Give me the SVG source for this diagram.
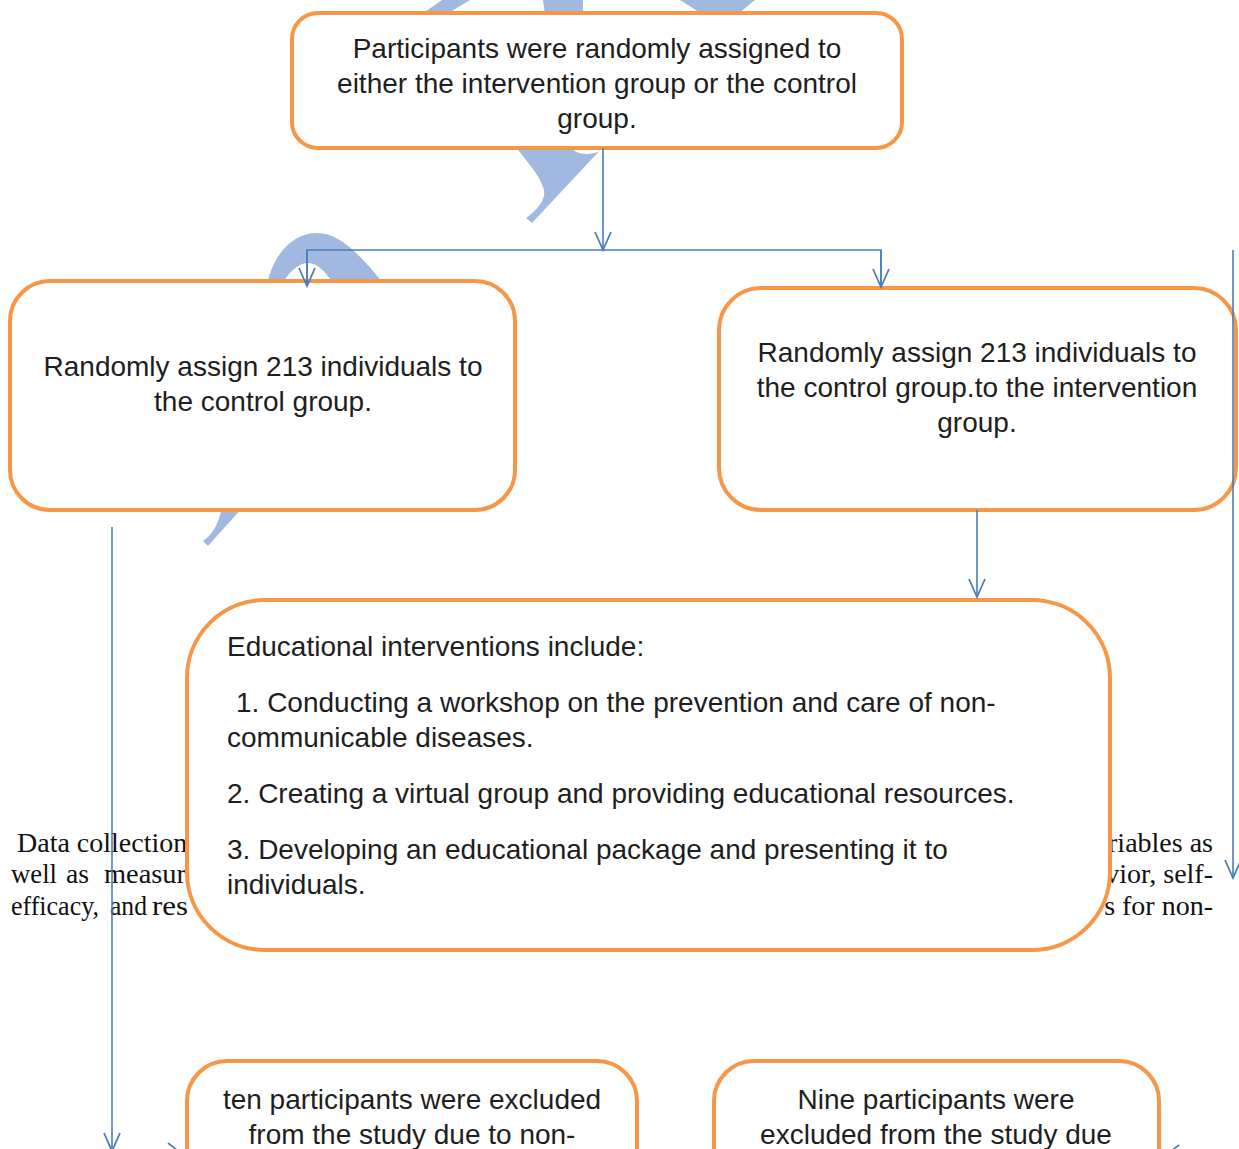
<svg xmlns="http://www.w3.org/2000/svg" width="1239" height="1149" viewBox="0 0 1239 1149">
<style>
.box{fill:#ffffff;stroke:#F79646;stroke-width:4}
.t{font-family:"Liberation Sans",Arial,sans-serif;font-size:28px;fill:#1e1e1e}
.c{text-anchor:middle}
.bg{font-family:"Liberation Serif","Times New Roman",serif;font-size:28px;fill:#111}
.deco{fill:#A1B8E1}
.con{fill:none;stroke:#4A7EBB;stroke-width:1.6}
</style>
<defs>
<marker id="arr" markerUnits="userSpaceOnUse" viewBox="-20 -10 22 20" markerWidth="22" markerHeight="20" refX="0" refY="0" orient="auto">
<path d="M-18,-8 L0,0 L-18,8" fill="none" stroke="#4A7EBB" stroke-width="1.8"/>
</marker>
</defs>
<g id="decorations">
<polygon class="deco" points="422,14 447,14 470,0 442,0"/>
<path class="deco" d="M543,0 L583,0 L583,14 L545,14 Z"/>
<polygon class="deco" points="680,0 755,0 738,14 702,14"/>
<path class="deco" d="M515,146 C528,163 540,175 544,190 C546,200 537,210 526,218 L532,223 L604,146 Z"/>
<ellipse cx="587" cy="148" rx="14" ry="6" fill="#ffffff"/>
<path class="deco" d="M267,284 C275,250 295,233 317,233 C340,233 360,255 384,284 Z"/>
<path d="M282,284 C290,270 300,263 308,263 C318,263 325,272 334,284 Z" fill="#ffffff"/>
<path class="deco" d="M222,508 C218,525 212,535 203,541 L208,546 L242,508 Z"/>
</g>
<g id="background-text">
<text class="bg" x="17" y="852">Data collection</text>
<text class="bg" x="11" y="883" textLength="46" lengthAdjust="spacingAndGlyphs">well</text>
<text class="bg" x="66" y="883" textLength="23" lengthAdjust="spacingAndGlyphs">as</text>
<text class="bg" x="104" y="883" textLength="82" lengthAdjust="spacingAndGlyphs">measur</text>
<text class="bg" x="11" y="915" textLength="88" lengthAdjust="spacingAndGlyphs">efficacy,</text>
<text class="bg" x="110" y="915" textLength="37" lengthAdjust="spacingAndGlyphs">and</text>
<text class="bg" x="152" y="915" textLength="36" lengthAdjust="spacingAndGlyphs">res</text>
<text class="bg" x="1213" y="852" text-anchor="end">riables as</text>
<text class="bg" x="1213" y="883" text-anchor="end">vior, self-</text>
<text class="bg" x="1213" y="915" text-anchor="end">s for non-</text>
</g>
<g id="node-top">
<rect class="box" x="292" y="13" width="610" height="135" rx="26"/>
<text class="t c" x="597" y="58">Participants were randomly assigned to</text>
<text class="t c" x="597" y="93">either the intervention group or the control</text>
<text class="t c" x="597" y="128">group.</text>
</g>
<g id="node-left">
<rect class="box" x="10" y="281" width="505" height="229" rx="40"/>
<text class="t c" x="263" y="376">Randomly assign 213 individuals to</text>
<text class="t c" x="263" y="411">the control group.</text>
</g>
<g id="node-right">
<rect class="box" x="719" y="288" width="517" height="222" rx="42"/>
<text class="t c" x="977" y="362">Randomly assign 213 individuals to</text>
<text class="t c" x="977" y="397">the control group.to the intervention</text>
<text class="t c" x="977" y="432">group.</text>
</g>
<g id="node-interventions">
<rect class="box" x="187" y="600" width="923" height="350" rx="78"/>
<text class="t" x="227" y="656">Educational interventions include:</text>
<text class="t" x="236" y="712">1. Conducting a workshop on the prevention and care of non-</text>
<text class="t" x="227" y="747">communicable diseases.</text>
<text class="t" x="227" y="803">2. Creating a virtual group and providing educational resources.</text>
<text class="t" x="227" y="859">3. Developing an educational package and presenting it to</text>
<text class="t" x="227" y="894">individuals.</text>
</g>
<g id="node-excluded-left">
<rect class="box" x="187" y="1061" width="450" height="160" rx="40"/>
<text class="t c" x="412" y="1109">ten participants were excluded</text>
<text class="t c" x="412" y="1144">from the study due to non-</text>
</g>
<g id="node-excluded-right">
<rect class="box" x="714" y="1061" width="445" height="160" rx="40"/>
<text class="t c" x="936" y="1109">Nine participants were</text>
<text class="t c" x="936" y="1144">excluded from the study due</text>
</g>
<g id="connectors">
<line class="con" x1="603" y1="148" x2="603" y2="250" marker-end="url(#arr)"/>
<polyline class="con" points="307,286 307,250 881,250 881,287"/>
<line class="con" x1="307" y1="251" x2="307" y2="286" marker-end="url(#arr)"/>
<line class="con" x1="881" y1="251" x2="881" y2="287" marker-end="url(#arr)"/>
<line class="con" x1="977" y1="510" x2="977" y2="597" marker-end="url(#arr)"/>
<line class="con" x1="112" y1="527" x2="112" y2="1151" marker-end="url(#arr)"/>
<line class="con" x1="1233" y1="250" x2="1233" y2="878" marker-end="url(#arr)"/>
<line class="con" x1="168" y1="1143" x2="177" y2="1150"/>
<line class="con" x1="1179" y1="1145" x2="1171" y2="1151"/>
</g>
</svg>
